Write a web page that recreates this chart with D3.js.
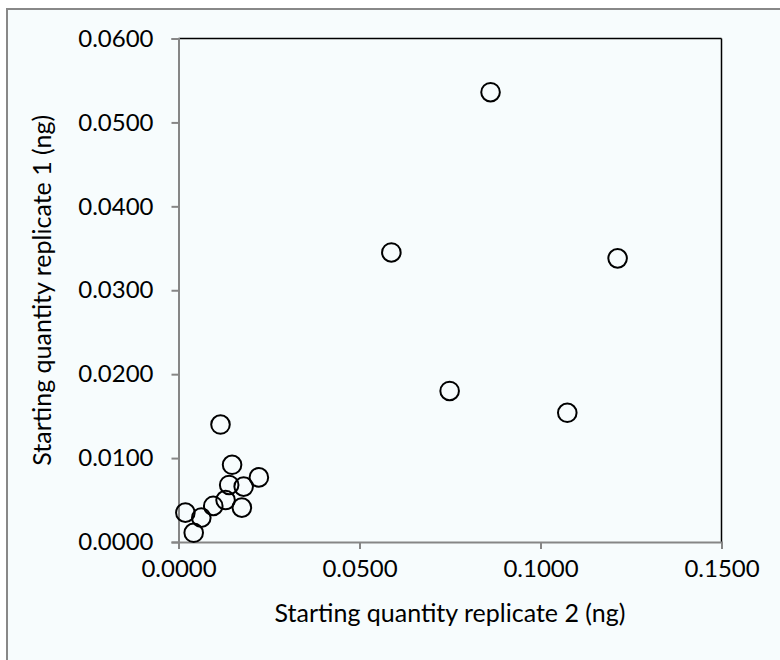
<!DOCTYPE html>
<html><head><meta charset="utf-8">
<script src="https://d3js.org/d3.v7.min.js"></script>
<style>
html,body{margin:0;padding:0;background:#fff;}
svg{display:block;}
text{font-family:Lato,"Open Sans",sans-serif;fill:#000;}
</style></head>
<body><svg id="c" width="780" height="660"></svg>
<script>
const rep2 = [0.0862, 0.0588, 0.1213, 0.0749, 0.1074, 0.0116, 0.0148, 0.0222, 0.0140, 0.0180, 0.0130, 0.0096, 0.0175, 0.0019, 0.0063, 0.0042];
const rep1 = [0.0536, 0.0345, 0.0338, 0.0180, 0.0154, 0.0140, 0.0092, 0.0077, 0.0068, 0.0066, 0.0050, 0.0043, 0.0041, 0.0035, 0.0029, 0.0011];
const xTicks = [0, 0.05, 0.10, 0.15];
const yTicks = [0, 0.01, 0.02, 0.03, 0.04, 0.05, 0.06];
const xTitle = "Starting quantity replicate 2 (ng)";
const yTitle = "Starting quantity replicate 1 (ng)";

const svg = d3.select("#c");
svg.append("rect").attr("x",7).attr("y",9).attr("width",790).attr("height",670)
  .attr("fill","#f7fcfd").attr("stroke","#888").attr("stroke-width",2);

const L=178.5, R=721.5, T=38.5, B=542;
const x = d3.scaleLinear().domain([0,0.15]).range([L,R]);
const y = d3.scaleLinear().domain([0,0.06]).range([B,T]);

svg.append("line").attr("x1",L).attr("x2",R).attr("y1",T).attr("y2",T).attr("stroke","#000").attr("stroke-width",1.5);
svg.append("line").attr("x1",R).attr("x2",R).attr("y1",T).attr("y2",B).attr("stroke","#000").attr("stroke-width",1.5);

const fmt = d3.format(".4f");
const xa = svg.append("g").attr("transform",`translate(0,${B})`)
  .call(d3.axisBottom(x).tickValues(xTicks).tickFormat(fmt).tickSize(7).tickPadding(11));
const ya = svg.append("g").attr("transform",`translate(${L},0)`)
  .call(d3.axisLeft(y).tickValues(yTicks).tickFormat(fmt).tickSize(7).tickPadding(18));
[xa,ya].forEach(a=>{
  a.selectAll("path").attr("stroke","#868686").attr("stroke-width",2);
  a.selectAll("line").attr("stroke","#868686").attr("stroke-width",2);
  a.selectAll("text").style("font-size","24px").attr("fill","#000");
});

svg.append("g").selectAll("circle").data(rep2.map((d,i)=>[d,rep1[i]])).join("circle")
  .attr("cx",d=>x(d[0])).attr("cy",d=>y(d[1])).attr("r",9.3)
  .attr("fill","none").attr("stroke","#000").attr("stroke-width",2);

svg.append("text").attr("x",(L+R)/2).attr("y",622).attr("text-anchor","middle")
  .style("font-size","25px").text(xTitle);
svg.append("text").attr("transform",`translate(51,${(T+B)/2}) rotate(-90)`).attr("text-anchor","middle")
  .style("font-size","25px").text(yTitle);
</script></body></html>
